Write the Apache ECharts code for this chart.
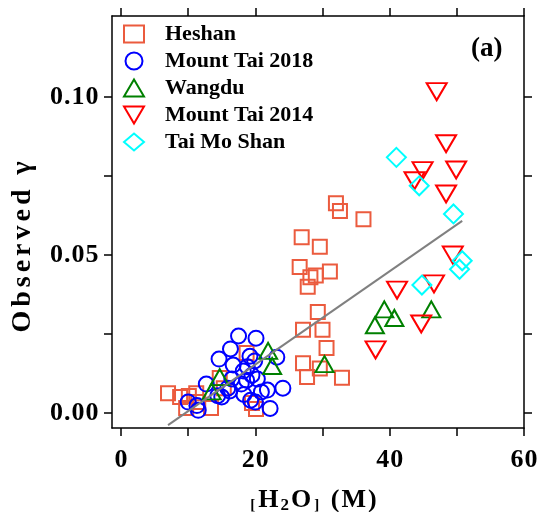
<!DOCTYPE html>
<html>
<head>
<meta charset="utf-8">
<script src="https://cdn.jsdelivr.net/npm/echarts@6/dist/echarts.min.js"></script>
<style>
  html, body { margin: 0; padding: 0; background: #fff; }
  #chart { width: 544px; height: 512px; }
</style>
</head>
<body>
<div id="chart"></div>
<script>
// 数据 [H2O] (M), observed gamma
var heshan = [
  [32.0, 0.0664], [32.6, 0.0639], [36.1, 0.0613], [26.9, 0.0556], [29.6, 0.0526],
  [26.6, 0.0462], [31.1, 0.0448], [29.0, 0.0435], [28.2, 0.0430], [27.8, 0.0400],
  [29.3, 0.0320], [27.1, 0.0264], [30.0, 0.0264], [30.6, 0.0206], [27.1, 0.0158],
  [29.6, 0.0141], [27.7, 0.0114], [32.9, 0.0112], [7.0, 0.0063], [8.8, 0.0051],
  [10.1, 0.0054], [11.2, 0.0063], [9.7, 0.0016], [11.5, 0.0035], [13.4, 0.0016],
  [14.7, 0.0111], [15.3, 0.0079], [18.7, 0.0190], [19.5, 0.0032], [20.1, 0.0013]
];
var mountTai2018 = [
  [17.5, 0.0244], [20.1, 0.0237], [16.3, 0.0203], [14.6, 0.0171], [16.7, 0.0152],
  [19.2, 0.0180], [19.9, 0.0165], [23.2, 0.0177], [18.8, 0.0147], [18.2, 0.0133],
  [19.5, 0.0120], [20.3, 0.0108], [18.7, 0.0104], [16.5, 0.0108], [15.9, 0.0079],
  [12.7, 0.0092], [14.4, 0.0055], [16.2, 0.0070], [18.3, 0.0059], [19.3, 0.0041],
  [20.9, 0.0067], [21.8, 0.0073], [24.1, 0.0079], [22.2, 0.0015], [10.0, 0.0035],
  [11.3, 0.0024], [11.5, 0.0009], [20.0, 0.0035], [15.0, 0.0051], [17.9, 0.0092]
];
var wangdu = [
  [39.2, 0.0328], [40.7, 0.0301], [37.8, 0.0278], [46.2, 0.0328], [30.3, 0.0155],
  [21.9, 0.0197], [22.5, 0.0149], [14.7, 0.0114], [13.5, 0.0069]
];
var mountTai2014 = [
  [47.0, 0.1017], [48.4, 0.0852], [44.9, 0.0767], [49.9, 0.0769], [43.7, 0.0735],
  [48.4, 0.0693], [49.4, 0.0500], [46.6, 0.0409], [41.1, 0.0389], [44.7, 0.0282],
  [37.9, 0.0200]
];
var taiMoShan = [
  [41.0, 0.0809], [44.4, 0.0719], [49.5, 0.0630], [50.8, 0.0482], [50.4, 0.0455],
  [44.8, 0.0405]
];
// 拟合线两端
var fitLine = [[7.0, -0.0038], [50.8, 0.0608]];

var xTicks = [0, 10, 20, 30, 40, 50, 60];
var xLabels = [0, 20, 40, 60];
var yTicks = [0, 0.025, 0.05, 0.075, 0.1];
var yLabels = [0, 0.05, 0.1];

var serif = 'Liberation Serif';
var downTri = 'path://M0,0 L20,0 L10,17 Z';

// 字间距: 每个字符一个 rich 片段
var spaced = function (s, key) {
  return s.split('').map(function (c) { return '{' + key + '|' + c + '}'; }).join('');
};

var myChart = echarts.init(document.getElementById('chart'));

var hollow = function (name, data, symbol, size, color) {
  return {
    name: name,
    type: 'scatter',
    data: data,
    symbol: symbol,
    symbolSize: size,
    itemStyle: { color: 'rgba(0,0,0,0)', borderColor: color, borderWidth: 2, opacity: 1 }
  };
};

var tickFont = { fontFamily: serif, fontWeight: 'bold', fontSize: 26, color: '#000', padding: [0, 0.5, 0, 0.5] };

var axisX = function (pos, showLabel) {
  return {
    type: 'value', position: pos, min: -1.34, max: 60,
    axisLine: { onZero: false, lineStyle: { color: '#000', width: 1.5 } },
    axisTick: { show: true, inside: false, length: 8, customValues: xTicks, lineStyle: { color: '#000', width: 1.5 } },
    axisLabel: {
      show: showLabel, customValues: xLabels, margin: 19,
      formatter: function (v) { return spaced(String(v), 't'); },
      rich: { t: tickFont }
    },
    splitLine: { show: false }
  };
};
var axisY = function (pos, showLabel) {
  return {
    type: 'value', position: pos, min: -0.0047, max: 0.1256,
    axisLine: { onZero: false, lineStyle: { color: '#000', width: 1.5 } },
    axisTick: { show: true, inside: false, length: 8, customValues: yTicks, lineStyle: { color: '#000', width: 1.5 } },
    axisLabel: {
      show: showLabel, customValues: yLabels, margin: 13,
      formatter: function (v) { return spaced(v.toFixed(2), 't'); },
      rich: { t: tickFont }
    },
    splitLine: { show: false }
  };
};

var option = {
  animation: false,
  backgroundColor: '#fff',
  grid: { left: 112, right: 20, top: 16, bottom: 84 },
  legend: {
    orient: 'vertical', left: 118, top: 18, itemGap: 5,
    itemWidth: 20, itemHeight: 17,
    data: ['Heshan', 'Mount Tai 2018', 'Wangdu', 'Mount Tai 2014', 'Tai Mo Shan'],
    textStyle: { fontFamily: serif, fontWeight: 'bold', fontSize: 22, lineHeight: 20, color: '#000', padding: [0, 0, 0, 16] }
  },
  xAxis: [axisX('bottom', true), axisX('top', false)],
  yAxis: [axisY('left', true), axisY('right', false)],
  graphic: [
    {
      type: 'text', left: 471, top: 36,
      style: { text: '(a)', fontFamily: serif, fontWeight: 'bold', fontSize: 27, fill: '#000' }
    },
    {
      type: 'text', x: 9, y: 247, rotation: Math.PI / 2,
      style: {
        text: spaced('Observed γ', 'c'),
        align: 'center', verticalAlign: 'top',
        rich: { c: { fontFamily: serif, fontWeight: 'bold', fontSize: 28, fill: '#000', padding: [0, 2, 0, 2] } }
      }
    },
    {
      type: 'text', x: 313, y: 500,
      style: {
        text: '{s|[}{b|H}{sub|2}{b|O}{s|]}{b| }' + spaced('(M)', 'b'),
        align: 'center', verticalAlign: 'middle',
        rich: {
          b: { fontFamily: serif, fontWeight: 'bold', fontSize: 26, fill: '#000', padding: [0, 1, 0, 1] },
          s: { fontFamily: serif, fontWeight: 'bold', fontSize: 15, fill: '#000', padding: [10, 2, 0, 2] },
          sub: { fontFamily: serif, fontWeight: 'bold', fontSize: 17, fill: '#000', padding: [12, 1, 0, 1] }
        }
      }
    }
  ],
  series: [
    hollow('Heshan', heshan, 'rect', 14, '#EB5B3E'),
    hollow('Mount Tai 2018', mountTai2018, 'circle', 15, '#0000FF'),
    hollow('Wangdu', wangdu, 'triangle', [18, 16], '#008000'),
    hollow('Mount Tai 2014', mountTai2014, downTri, [20, 17], '#FF0000'),
    hollow('Tai Mo Shan', taiMoShan, 'diamond', [19, 19], '#00FFFF'),
    {
      name: 'fit', type: 'line', data: fitLine, showSymbol: false, symbol: 'none',
      lineStyle: { color: '#808080', width: 2 }, z: 5
    }
  ]
};

myChart.setOption(option);
</script>
</body>
</html>
